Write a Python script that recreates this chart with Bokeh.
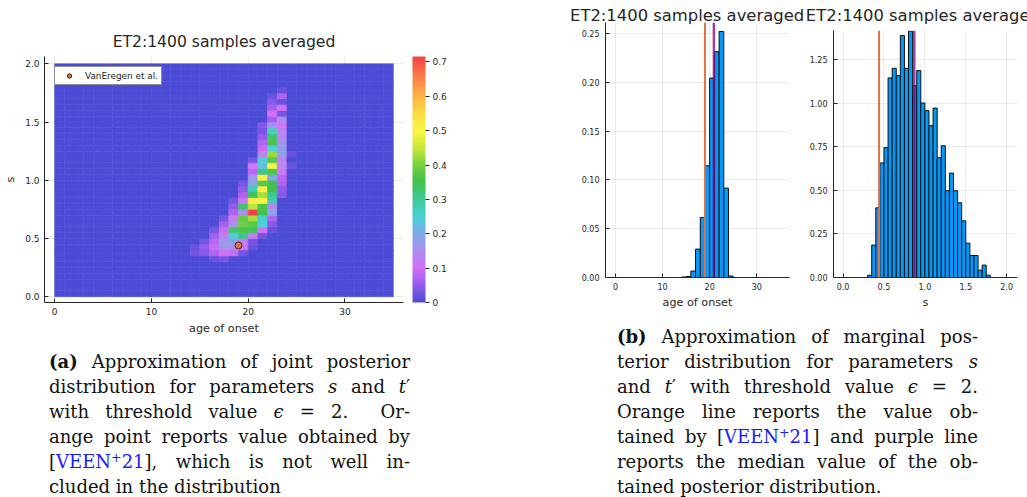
from bokeh.plotting import figure
from bokeh.models import (ColumnDataSource, LinearColorMapper, ColorBar, FixedTicker,
                          CustomJSTickFormatter, PrintfTickFormatter, Range1d, Div, Span,
                          LinearAxis)
from bokeh.layouts import row, column
from bokeh.transform import transform
from bokeh.embed import file_html
from bokeh.resources import INLINE

TITLE = "ET2:1400 samples averaged"
FONT = "DejaVu Sans"
BLUE = "#009AFA"
ORANGE = "#E36F47"
PURPLE = "#800080"

# ---------------------------------------------------------------- data
# reference estimate (VanEregen et al.) and posterior medians
REF_AGE = 19.0
REF_S = 0.44
MEDIAN_AGE = 20.9
MEDIAN_S = 0.87

# joint posterior density on 1-year x 0.05 grid (age 0..35, s 0..2)
N_AGE = 35
N_S = 40
S_STEP = 0.05
# one entry per non-empty s row: row index, first age bin, densities
JOINT_S_ROW = [6, 7, 8, 9, 10, 11, 12, 13, 14, 15, 16, 17, 18, 19, 20, 21, 22,
               23, 24, 25, 26, 27, 28, 29, 30, 31, 32, 33, 34, 35]
JOINT_AGE_START = [16, 14, 14, 15, 16, 16, 17, 17, 18, 18, 18, 19, 19, 19, 20, 20,
                   20, 20, 21, 21, 21, 21, 21, 21, 22, 22, 22, 22, 22, 23]
JOINT_DENSITY = [
    [0.02, 0.03],
    [0.03, 0.04, 0.07, 0.10, 0.09, 0.03],
    [0.02, 0.05, 0.09, 0.16, 0.15, 0.11, 0.02],
    [0.03, 0.08, 0.17, 0.19, 0.12, 0.03],
    [0.06, 0.13, 0.24, 0.30, 0.12, 0.03],
    [0.03, 0.09, 0.33, 0.36, 0.34, 0.11, 0.02],
    [0.06, 0.15, 0.39, 0.37, 0.25, 0.04],
    [0.03, 0.12, 0.38, 0.43, 0.26, 0.07],
    [0.07, 0.16, 0.716, 0.35, 0.19],
    [0.05, 0.33, 0.44, 0.36, 0.14],
    [0.03, 0.11, 0.52, 0.51, 0.28],
    [0.07, 0.34, 0.43, 0.30, 0.04],
    [0.05, 0.28, 0.52, 0.35, 0.05],
    [0.03, 0.20, 0.37, 0.35, 0.07],
    [0.17, 0.51, 0.20, 0.08],
    [0.08, 0.31, 0.36, 0.11],
    [0.11, 0.23, 0.50, 0.14, 0.02],
    [0.03, 0.24, 0.37, 0.13],
    [0.14, 0.42, 0.18, 0.02],
    [0.09, 0.25, 0.18],
    [0.07, 0.36, 0.16],
    [0.05, 0.33, 0.14],
    [0.03, 0.27, 0.13],
    [0.04, 0.15, 0.11],
    [0.06, 0.15],
    [0.10, 0.03],
    [0.06, 0.10],
    [0.04, 0.02],
    [0.02, 0.07],
    [0.02],
]

# marginal posterior of age of onset (1-year bins)
AGE_BIN_LEFT = [14, 15, 16, 17, 18, 19, 20, 21, 22, 23, 24]
AGE_DENSITY = [0.0005, 0.001, 0.0066, 0.0291, 0.0615, 0.1146, 0.2045, 0.2315,
               0.2523, 0.0917, 0.0015]
AGE_BIN_WIDTH = 1.0

# marginal posterior of s (0.05 bins)
S_BIN_LEFT = [0.30, 0.35, 0.40, 0.45, 0.50, 0.55, 0.60, 0.65, 0.70, 0.75, 0.80,
              0.85, 0.90, 0.95, 1.00, 1.05, 1.10, 1.15, 1.20, 1.25, 1.30, 1.35,
              1.40, 1.45, 1.50, 1.55, 1.60, 1.65, 1.70, 1.75]
S_DENSITY = [0.013, 0.186, 0.40, 0.657, 0.745, 1.145, 1.20, 1.158, 1.388, 1.20,
             1.413, 1.10, 1.187, 1.001, 0.957, 0.871, 0.972, 0.687, 0.756, 0.498,
             0.599, 0.498, 0.429, 0.325, 0.197, 0.126, 0.126, 0.042, 0.071, 0.013]
S_BIN_WIDTH = 0.05

HEAT_X_TICKS = [0, 10, 20, 30]
HEAT_Y_TICKS = [0.0, 0.5, 1.0, 1.5, 2.0]
CBAR_TICKS = [0.0, 0.1, 0.2, 0.3, 0.4, 0.5, 0.6, 0.7]
AGE_Y_TICKS = [0.0, 0.05, 0.10, 0.15, 0.20, 0.25]
S_X_TICKS = [0.0, 0.5, 1.0, 1.5, 2.0]
S_Y_TICKS = [0.0, 0.25, 0.50, 0.75, 1.00, 1.25]

CAPTION_A = [
    ("<b>(a)</b> Approximation of joint posterior", True),
    ("distribution for parameters <i>s</i> and <i>t</i>&#8242;", True),
    ("with threshold value <i>&#1013;</i> = 2.&nbsp; Or-", True),
    ("ange point reports value obtained by", True),
    ("[{ref}], which is not well in-", True),
    ("cluded in the distribution", False),
]
CAPTION_B = [
    ("<b>(b)</b> Approximation of marginal pos-", True),
    ("terior distribution for parameters <i>s</i>", True),
    ("and <i>t</i>&#8242; with threshold value <i>&#1013;</i> = 2.", True),
    ("Orange line reports the value ob-", True),
    ("tained by [{ref}] and purple line", True),
    ("reports the median value of the ob-", True),
    ("tained posterior distribution.", False),
]
REF_TAG = ('<span style="color:#1a1aff">VEEN<sup style="font-size:0.7em;'
           'vertical-align:0.5em;line-height:0">+</sup>21</span>')


# ---------------------------------------------------------------- helpers
def build_palette(anchors, n=256):
    out = []
    for i in range(n):
        t = i / (n - 1)
        for (t0, c0), (t1, c1) in zip(anchors[:-1], anchors[1:]):
            if t0 <= t <= t1:
                f = 0 if t1 == t0 else (t - t0) / (t1 - t0)
                rgb = [round(a + (b - a) * f) for a, b in zip(c0, c1)]
                out.append("#%02x%02x%02x" % tuple(rgb))
                break
    return out


PALETTE = build_palette([
    (0.00, (76, 76, 214)),
    (0.07, (150, 92, 236)),
    (0.14, (212, 112, 246)),
    (0.21, (172, 142, 238)),
    (0.28, (128, 170, 230)),
    (0.35, (72, 210, 214)),
    (0.42, (62, 200, 150)),
    (0.49, (66, 194, 76)),
    (0.57, (128, 212, 62)),
    (0.63, (204, 232, 62)),
    (0.70, (250, 246, 66)),
    (0.78, (250, 214, 66)),
    (0.86, (250, 168, 72)),
    (1.00, (245, 68, 68)),
])


def no_frame_align(p):
    try:
        p.frame_align = False
    except Exception:
        pass


def style_axes(p, tick_size, label_size):
    p.outline_line_color = None
    p.background_fill_color = "white"
    p.border_fill_color = "white"
    for ax in p.axis:
        ax.axis_line_color = "#262626"
        ax.axis_line_width = 1
        ax.major_tick_in = 4
        ax.major_tick_out = 0
        ax.major_tick_line_color = "#262626"
        ax.minor_tick_line_color = None
        ax.major_label_text_font = FONT
        ax.major_label_text_font_size = tick_size
        ax.major_label_text_color = "#262626"
        ax.axis_label_text_font = FONT
        ax.axis_label_text_font_size = label_size
        ax.axis_label_text_font_style = "normal"
        ax.axis_label_text_color = "#262626"
    for g in p.grid:
        g.grid_line_color = "black"
        g.grid_line_alpha = 0.08
    p.title.text_font = FONT
    p.title.text_font_style = "normal"
    p.title.text_color = "#262626"


def title_axis(text, size, standoff):
    # a bare axis above the frame that only carries the heading text
    return LinearAxis(axis_label=text, ticker=FixedTicker(ticks=[]),
                      axis_line_color=None, major_tick_line_color=None,
                      minor_tick_line_color=None, major_tick_in=0, major_tick_out=0,
                      major_label_standoff=0, major_label_text_font_size="0px",
                      axis_label_standoff=standoff, axis_label_text_font=FONT,
                      axis_label_text_font_size=size, axis_label_text_font_style="normal",
                      axis_label_text_color="#262626")


# ---------------------------------------------------------------- joint heatmap
grid = [[0.0] * N_AGE for _ in range(N_S)]
for k, a0, vals in zip(JOINT_S_ROW, JOINT_AGE_START, JOINT_DENSITY):
    for j, v in enumerate(vals):
        grid[k][a0 + j] = v

cx, cy, cv = [], [], []
for k in range(N_S):
    for i in range(N_AGE):
        cx.append(i + 0.5)
        cy.append((k + 0.5) * S_STEP)
        cv.append(grid[k][i])
heat_src = ColumnDataSource(dict(x=cx, y=cy, v=cv))

vmax = max(max(r) for r in JOINT_DENSITY)
mapper = LinearColorMapper(palette=PALETTE, low=0.0, high=vmax)

heat = figure(width=560, height=350, output_backend="svg", toolbar_location=None,
              x_range=Range1d(-1.05, 36.05), y_range=Range1d(-0.05, 2.063),
              min_border_left=44, min_border_right=157, min_border_top=56,
              min_border_bottom=48, title=TITLE)
no_frame_align(heat)
heat.rect(x="x", y="y", width=1, height=S_STEP, source=heat_src,
          fill_color=transform("v", mapper), line_color=transform("v", mapper),
          line_width=0.6)
heat.scatter(x=[REF_AGE], y=[REF_S], size=7, fill_color=ORANGE, line_color="#3a2a2a",
             line_width=1, legend_label="VanEregen et al.")
heat.xaxis.ticker = FixedTicker(ticks=HEAT_X_TICKS)
heat.yaxis.ticker = FixedTicker(ticks=HEAT_Y_TICKS)
heat.yaxis.formatter = PrintfTickFormatter(format="%.1f")
heat.xaxis.axis_label = "age of onset"
heat.yaxis.axis_label = "s"
style_axes(heat, "9px", "11.2px")
heat.title.text_font_size = "15.6px"
heat.title.align = "center"
heat.title.standoff = 12
heat.xaxis.major_label_standoff = 5
heat.yaxis.major_label_standoff = 5
heat.xaxis.axis_label_standoff = 4
heat.yaxis.axis_label_standoff = 5

leg = heat.legend[0]
leg.location = "top_left"
leg.margin = 10
leg.padding = 3
leg.spacing = 0
leg.glyph_width = 22
leg.glyph_height = 11
leg.label_height = 11
leg.label_standoff = 5
leg.label_text_font = FONT
leg.label_text_font_size = "8.9px"
leg.label_text_color = "#262626"
leg.border_line_color = "#222222"
leg.border_line_width = 1
leg.background_fill_alpha = 1.0

# blank strip that keeps the colour bar a few pixels away from the frame
gap_mapper = LinearColorMapper(palette=["#ffffff", "#ffffff"], low=0, high=1)
gap = ColorBar(color_mapper=gap_mapper, width=9, padding=0, margin=0,
               ticker=FixedTicker(ticks=[]), major_tick_out=0, major_tick_in=0,
               label_standoff=0, major_label_text_font_size="0px", bar_line_color=None,
               background_fill_alpha=0)
heat.add_layout(gap, "right")

cbar = ColorBar(color_mapper=mapper, width=13, padding=0, margin=0,
                ticker=FixedTicker(ticks=CBAR_TICKS),
                formatter=CustomJSTickFormatter(code="return tick == 0 ? '0' : tick.toFixed(1);"),
                major_label_text_font=FONT, major_label_text_font_size="9px",
                major_label_text_color="#262626", major_tick_in=0, major_tick_out=4,
                major_tick_line_color="#262626", minor_tick_line_color=None,
                label_standoff=3, bar_line_color=None)
heat.add_layout(cbar, "right")


# ---------------------------------------------------------------- marginal histograms
def histogram(lefts, dens, width, x_range, y_range, xticks, yticks, xfmt, yfmt,
              xlabel, ref, med, fig_w, mb_left, mb_right, mb_top, title_pad, title_gap):
    p = figure(width=fig_w, height=325, output_backend="svg", toolbar_location=None,
               x_range=Range1d(*x_range), y_range=Range1d(*y_range),
               min_border_left=mb_left, min_border_right=mb_right,
               min_border_top=mb_top, min_border_bottom=48)
    no_frame_align(p)
    src = ColumnDataSource(dict(left=lefts, right=[l + width for l in lefts], top=dens))
    p.quad(left="left", right="right", bottom=0, top="top", source=src,
           fill_color=BLUE, line_color="#111111", line_width=1)
    p.add_layout(Span(location=ref, dimension="height", line_color=ORANGE, line_width=2))
    p.add_layout(Span(location=med, dimension="height", line_color=PURPLE,
                      line_alpha=0.75, line_width=2.5))
    p.xaxis.ticker = FixedTicker(ticks=xticks)
    p.yaxis.ticker = FixedTicker(ticks=yticks)
    p.xaxis.formatter = PrintfTickFormatter(format=xfmt)
    p.yaxis.formatter = PrintfTickFormatter(format=yfmt)
    p.xaxis.axis_label = xlabel
    style_axes(p, "8px", "11.2px")
    p.xaxis.major_label_standoff = 5
    p.yaxis.major_label_standoff = 6
    p.xaxis.axis_label_standoff = 3
    p.add_layout(title_axis(TITLE + "\u00a0" * title_pad, "16.4px", title_gap), "above")
    return p


hist_age = histogram(AGE_BIN_LEFT, AGE_DENSITY, AGE_BIN_WIDTH, (-2.13, 36.96),
                     (0.0, 0.2615), HEAT_X_TICKS, AGE_Y_TICKS, "%d", "%.2f",
                     "age of onset", REF_AGE, MEDIAN_AGE, 245, 45, 16, 22, 4, -2)
hist_s = histogram(S_BIN_LEFT, S_DENSITY, S_BIN_WIDTH, (-0.117, 2.132),
                   (0.0, 1.417), S_X_TICKS, S_Y_TICKS, "%.1f", "%.2f",
                   "s", REF_S, MEDIAN_S, 222, 28, 10, 30, 1, 6)


# ---------------------------------------------------------------- captions
def caption(lines, indent, width, height):
    rows = []
    for txt, justify in lines:
        align = "justify" if justify else "left"
        rows.append('<div style="height:25px;line-height:25px;white-space:nowrap;'
                    'text-align:%s;text-align-last:%s;">%s</div>'
                    % (align, align, txt.format(ref=REF_TAG)))
    html = ('<div style="margin-left:%dpx;margin-top:-1px;width:361px;'
            'font-family:\'DejaVu Serif\',serif;font-size:18px;'
            'color:#111;">%s</div>' % (indent, "".join(rows)))
    return Div(text=html, width=width, height=height, margin=(0, 0, 0, 0))


cap_a = caption(CAPTION_A, 49, 560, 150)
cap_b = caption(CAPTION_B, 57, 467, 175)

layout = row(column(heat, cap_a), column(row(hist_age, hist_s), cap_b))

html = file_html(layout, INLINE, title=TITLE)
html = html.replace("</head>", "<style>html,body{margin:0;padding:0;overflow:hidden;}</style></head>", 1)
open("out.html", "w").write(html)
